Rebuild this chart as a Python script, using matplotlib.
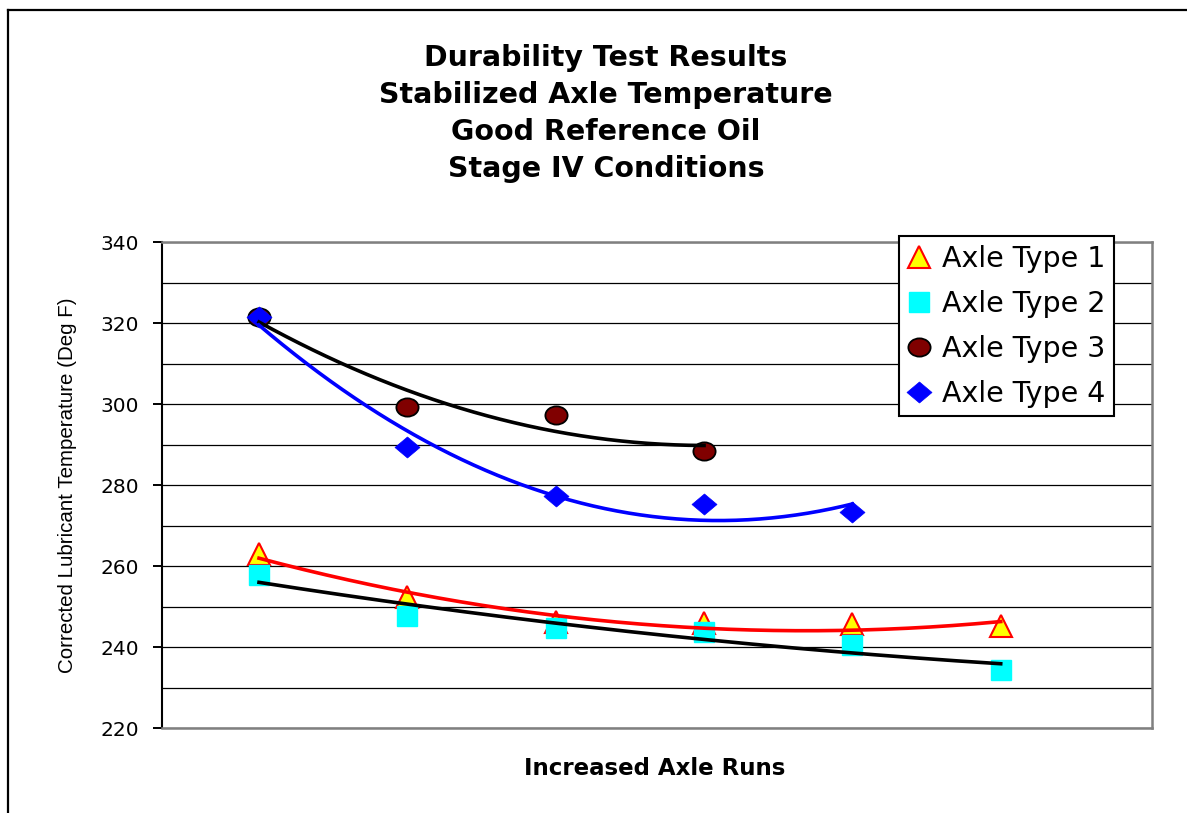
import numpy as np
import matplotlib.pyplot as plt
from matplotlib.lines import Line2D
from matplotlib.path import Path
from matplotlib.transforms import Affine2D

# run index along the x axis
runs = [1, 2, 3, 4, 5, 6]

axle1 = [263.0, 252.3, 246.2, 246.0, 245.7, 245.1]
axle2 = [257.9, 247.7, 244.6, 243.7, 240.6, 234.2]
axle3 = [321.6, 299.3, 297.3, 288.4]
axle4 = [321.5, 289.3, 277.3, 275.3, 273.3]

labels = ['Axle Type 1', 'Axle Type 2', 'Axle Type 3', 'Axle Type 4']
title_lines = ['Durability Test Results', 'Stabilized Axle Temperature',
               'Good Reference Oil', 'Stage IV Conditions']
yticks = [220, 240, 260, 280, 300, 320, 340]

W, H = 1187, 813
fig = plt.figure(figsize=(W / 100, H / 100), dpi=100)

# outer chart frame (only left and top edges are inside the picture)
fig.add_artist(Line2D([8 / W, 8 / W], [-0.1, 1 - 10 / H], color='black', lw=1.6,
                      transform=fig.transFigure))
fig.add_artist(Line2D([8 / W, 1.1], [1 - 10 / H, 1 - 10 / H], color='black', lw=1.6,
                      transform=fig.transFigure))

axw = 1152 - 162
ax = fig.add_axes([162 / W, 1 - 728 / H, axw / W, (728 - 242) / H])

ellipse = Path.unit_circle().transformed(Affine2D().scale(1.0, 0.82))
diamond = Path([(0, 1), (1.19, 0), (0, -1), (-1.19, 0), (0, 1)],
               [Path.MOVETO, Path.LINETO, Path.LINETO, Path.LINETO, Path.CLOSEPOLY])

ax.plot(runs, axle1, linestyle='none', marker='^', markersize=15.5,
        markerfacecolor='#FFFF00', markeredgecolor='#FF0000', markeredgewidth=1.5,
        label=labels[0], zorder=3)
ax.plot(runs, axle2, linestyle='none', marker='s', markersize=14.5,
        markerfacecolor='#00FFFF', markeredgecolor='#00FFFF', markeredgewidth=1,
        label=labels[1], zorder=3)
ax.plot(runs[:4], axle3, linestyle='none', marker=ellipse, markersize=16,
        markerfacecolor='#800000', markeredgecolor='black', markeredgewidth=1.3,
        label=labels[2], zorder=3)
ax.plot(runs[:5], axle4, linestyle='none', marker=diamond, markersize=18,
        markerfacecolor='#0000FF', markeredgecolor='#0000FF', markeredgewidth=0.5,
        label=labels[3], zorder=3)

# 2nd order polynomial trendlines
for ys, col in [(axle1, '#FF0000'), (axle2, 'black'), (axle3, 'black'), (axle4, '#0000FF')]:
    xs = np.array(runs[:len(ys)], dtype=float)
    coef = np.polyfit(xs, ys, 2)
    xx = np.linspace(xs[0], xs[-1], 200)
    ax.plot(xx, np.polyval(coef, xx), color=col, lw=2.6, zorder=4)

ax.set_xlim(0.346, 7.02)
ax.set_ylim(220, 340)
ax.set_yticks(yticks)
ax.set_yticks(np.arange(230, 340, 10), minor=True)
ax.yaxis.grid(True, which='both', color='black', lw=0.9)
ax.set_axisbelow(True)
ax.tick_params(axis='y', which='major', direction='out', length=6.5, width=1.4,
               pad=10, labelsize=14.5)
ax.tick_params(axis='y', which='minor', length=0)
ax.tick_params(axis='x', which='both', length=0, labelbottom=False)

ax.spines['left'].set_color('black')
ax.spines['left'].set_linewidth(1.5)
for s in ['top', 'right', 'bottom']:
    ax.spines[s].set_color('#808080')
    ax.spines[s].set_linewidth(1.8)

ax.set_ylabel('Corrected Lubricant Temperature (Deg F)',
              family='Liberation Sans', fontsize=14.8)
ax.yaxis.set_label_coords((77 - 162) / axw, 0.5)

fig.text(655 / W, 1 - 768 / H, 'Increased Axle Runs', ha='center', va='center',
         fontsize=16.5, fontweight='bold')

for i, line in enumerate(title_lines):
    fig.text(606 / W, 1 - (58 + 37 * i) / H, line, ha='center', va='center',
             fontsize=20.5, fontweight='bold')

leg = ax.legend(loc='upper right', bbox_to_anchor=(1114 / W, 1 - 236 / H),
                bbox_transform=fig.transFigure, fontsize=20.5, frameon=True,
                fancybox=False, framealpha=1, edgecolor='black', borderaxespad=0,
                handlelength=0.8, handletextpad=0.4, labelspacing=0.6,
                borderpad=0.3, markerscale=1.0)
leg.get_frame().set_linewidth(1.5)
leg.set_zorder(10)

fig.savefig('out.png', dpi=100)
